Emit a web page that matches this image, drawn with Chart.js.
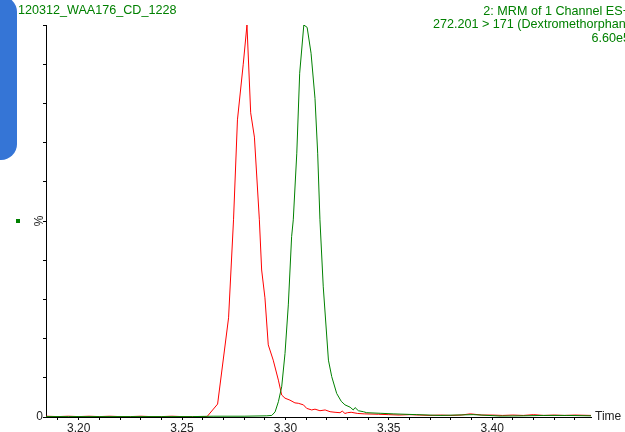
<!DOCTYPE html>
<html>
<head>
<meta charset="utf-8">
<script src="https://cdn.jsdelivr.net/npm/chart.js@4/dist/chart.umd.min.js"></script>
<style>
  body { margin: 0; background: #fff; }
  canvas { display: block; }
</style>
</head>
<body>
<canvas id="crom" width="625" height="432"></canvas>
<script>
// rango del eje de tiempo (min)
var tiempoMin = 3.1842
var tiempoMax = 3.4478

// canal verde (Dextrometorfano)
var verdeTiempo = [3.1842, 3.195, 3.210, 3.225, 3.240, 3.255, 3.265, 3.280, 3.2910, 3.2934, 3.2950, 3.2966, 3.2982, 3.2998, 3.3014, 3.3030, 3.3038, 3.3055, 3.3069, 3.3089, 3.3105, 3.3124, 3.3143, 3.3156, 3.3167, 3.3183, 3.3208, 3.3224, 3.3248, 3.3270, 3.3288, 3.3313, 3.3328, 3.3337, 3.3353, 3.3377, 3.3393, 3.3458, 3.3521, 3.3635, 3.3748, 3.3908, 3.4038, 3.4150, 3.4250, 3.4361, 3.4478]
var verdeValores = [0.1, 0.1, 0.1, 0.1, 0.1, 0.1, 0.2, 0.2, 0.3, 0.4, 1.3, 3.9, 7.7, 16.2, 28.6, 46, 50.3, 67.3, 87.7, 100, 99.4, 92.8, 81.3, 67.3, 50.3, 33.2, 14.5, 10.3, 6.0, 4.0, 3.1, 2.5, 1.8, 2.4, 1.6, 1.35, 1.1, 0.95, 0.8, 0.6, 0.4, 0.6, 0.25, 0.3, 0.4, 0.4, 0.3]

// canal rojo
var rojoTiempo = [3.1842, 3.190, 3.195, 3.200, 3.205, 3.210, 3.215, 3.220, 3.225, 3.230, 3.235, 3.240, 3.245, 3.250, 3.255, 3.2595, 3.2621, 3.2672, 3.2725, 3.2749, 3.2768, 3.2796, 3.2814, 3.2832, 3.2850, 3.2874, 3.2885, 3.2901, 3.2917, 3.2941, 3.2966, 3.2982, 3.2998, 3.3022, 3.3046, 3.3062, 3.3087, 3.3103, 3.3127, 3.3143, 3.3167, 3.3192, 3.3216, 3.3240, 3.3264, 3.3275, 3.3288, 3.3300, 3.3318, 3.3350, 3.3382, 3.345, 3.350, 3.355, 3.360, 3.365, 3.370, 3.375, 3.380, 3.385, 3.3894, 3.395, 3.400, 3.405, 3.410, 3.415, 3.420, 3.425, 3.430, 3.435, 3.440, 3.4478]
var rojoValores = [0.2, 0.1, 0.2, 0.1, 0.2, 0.1, 0.2, 0.1, 0.1, 0.2, 0.1, 0.1, 0.2, 0.1, 0.1, 0.1, 0.1, 3.3, 25.3, 50.3, 75.8, 90, 100, 77.6, 71.4, 50.3, 37.5, 30.4, 18.4, 14.5, 9.4, 5.6, 4.8, 4.3, 3.6, 3.5, 3.1, 2.2, 1.8, 2.0, 1.6, 1.8, 1.35, 1.2, 1.1, 1.5, 0.9, 1.1, 1.2, 0.9, 0.8, 0.7, 0.6, 0.5, 0.6, 0.5, 0.4, 0.5, 0.4, 0.5, 0.8, 0.5, 0.5, 0.4, 0.5, 0.4, 0.6, 0.4, 0.5, 0.4, 0.5, 0.4]

// textos
var tituloIzq = "120312_WAA176_CD_1228"
var tituloDer = ["2: MRM of 1 Channel ES+", "272.201 > 171 (Dextromethorphan)", "6.60e5"]
var etiquetaY = "%"
var etiquetaX = "Time"

var fuente = '"Liberation Sans", Arial, sans-serif'
var verde = "#008000"

function pares(xs, ys) {
  return xs.map(function (x, i) { return { x: x, y: ys[i] } })
}

// dibujo de textos y adornos fuera del área del gráfico
var adornos = {
  id: "adornos",
  beforeDraw: function (chart) {
    var ctx = chart.ctx
    ctx.save()
    ctx.fillStyle = "#3575d6"
    ctx.beginPath()
    ctx.roundRect(-30, -4, 47, 164, 16)
    ctx.fill()
    ctx.restore()
  },
  afterDraw: function (chart) {
    var ctx = chart.ctx
    var area = chart.chartArea
    ctx.save()
    ctx.fillStyle = verde
    ctx.font = "12.6px " + fuente
    ctx.textBaseline = "middle"
    ctx.textAlign = "left"
    ctx.fillText(tituloIzq, 18, 11)
    ctx.textAlign = "right"
    tituloDer.forEach(function (t, i) {
      ctx.fillText(t, 630, 11.5 + i * 13.5)
    })
    // cuadrito verde
    var yMedio = (area.top + area.bottom) / 2
    ctx.fillRect(16, yMedio - 2, 4, 4)
    // etiqueta eje y
    ctx.fillStyle = "#222"
    ctx.font = "12px " + fuente
    ctx.translate(40, yMedio)
    ctx.rotate(-Math.PI / 2)
    ctx.textAlign = "center"
    ctx.fillText(etiquetaY, 0, 0)
    ctx.restore()
    ctx.save()
    ctx.fillStyle = "#222"
    ctx.font = "12px " + fuente
    ctx.textBaseline = "middle"
    ctx.textAlign = "left"
    ctx.fillText(etiquetaX, 595, area.bottom)
    ctx.restore()
  },
}

var ctxCrom = document.getElementById("crom").getContext("2d")
var chartCrom = new Chart(ctxCrom, {
  type: "line",
  data: {
    datasets: [
      {
        label: "verde",
        data: pares(verdeTiempo, verdeValores),
        borderColor: verde,
        borderWidth: 1,
        pointRadius: 0,
        tension: 0,
        fill: false,
      },
      {
        label: "rojo",
        data: pares(rojoTiempo, rojoValores),
        borderColor: "#ff0000",
        borderWidth: 1,
        pointRadius: 0,
        tension: 0,
        fill: false,
      },
    ],
  },
  options: {
    responsive: false,
    animation: false,
    layout: {
      padding: { top: 25, right: 34, left: 0, bottom: 0 },
    },
    plugins: {
      legend: { display: false },
      tooltip: { enabled: false },
      title: { display: false },
    },
    scales: {
      x: {
        type: "linear",
        min: tiempoMin,
        max: tiempoMax,
        border: { color: "#000", width: 1 },
        grid: { drawOnChartArea: false, drawTicks: true, tickLength: 3, color: "#000" },
        ticks: {
          stepSize: 0.01,
          includeBounds: false,
          autoSkip: false,
          maxRotation: 0,
          padding: 1,
          color: "#222",
          font: { family: fuente, size: 12 },
          callback: function (v) {
            var k = v * 20
            return Math.abs(k - Math.round(k)) < 1e-6 ? v.toFixed(2) : ""
          },
        },
        afterFit: function (s) { s.height = 15 },
      },
      y: {
        min: 0,
        max: 100,
        border: { color: "#000", width: 1 },
        grid: { drawOnChartArea: false, drawTicks: true, tickLength: 3, color: "#000" },
        ticks: {
          stepSize: 10,
          padding: 0,
          color: "#222",
          font: { family: fuente, size: 12 },
          callback: function (v) { return v === 0 ? "0" : "" },
        },
        afterFit: function (s) { s.width = 46 },
      },
    },
  },
  plugins: [adornos],
})
</script>
</body>
</html>
